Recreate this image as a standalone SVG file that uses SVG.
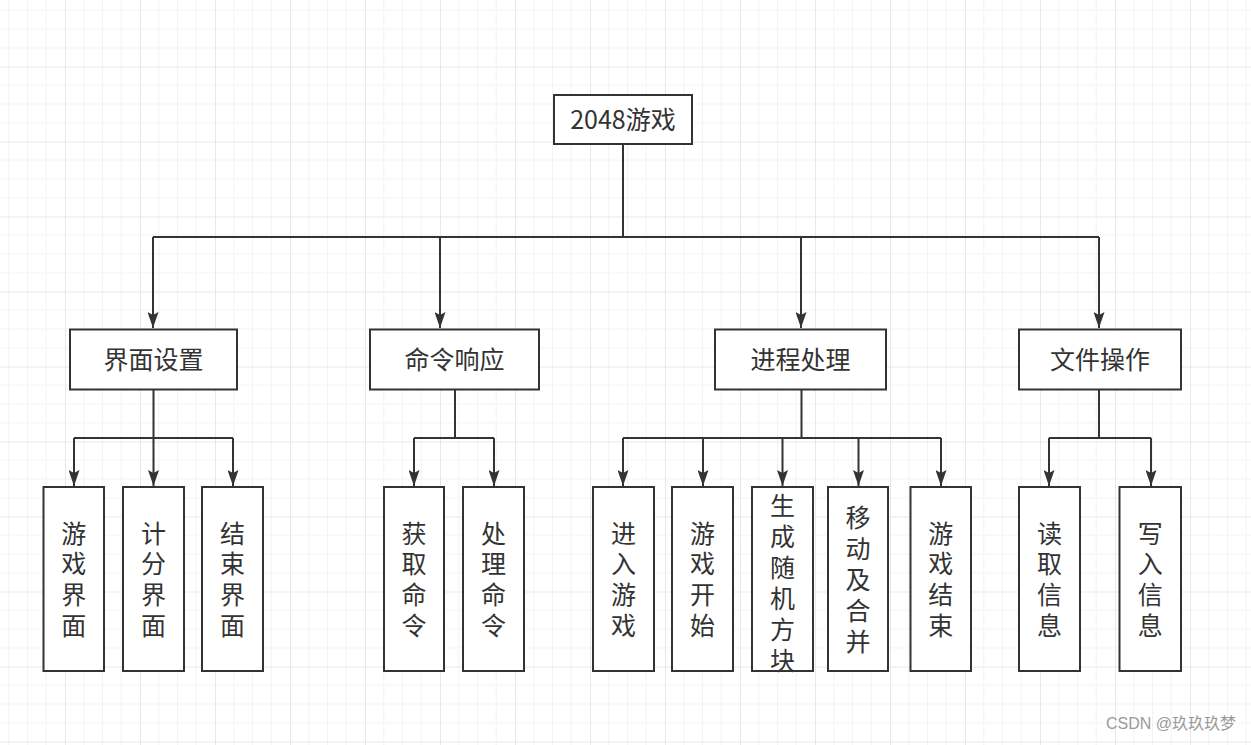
<svg xmlns="http://www.w3.org/2000/svg" width="1251" height="745" viewBox="0 0 1251 745">
<style>
.box{fill:#fff;stroke:#333;stroke-width:2}
.lbl{font-family:"Noto Sans CJK SC","Noto Sans",sans-serif;font-size:25px;fill:#333;text-anchor:middle}
.vl{font-family:"Liberation Sans","Noto Sans CJK SC",sans-serif;font-size:25px;fill:#333;text-anchor:middle}
.conn{fill:none;stroke:#333;stroke-width:2}
.arr{fill:none;stroke:#333;stroke-width:2;marker-end:url(#ah)}
.wm{font-family:"Liberation Sans","Noto Sans CJK SC",sans-serif;font-size:16px;fill:#9a9a9a;text-anchor:end}
</style>
<defs>
<pattern id="grid" patternUnits="userSpaceOnUse" x="65" y="66.5" width="75" height="75">
<rect x="0" y="18.25" width="75" height="1" fill="#f3f3f3"/>
<rect x="0" y="37" width="75" height="1" fill="#f3f3f3"/>
<rect x="0" y="55.75" width="75" height="1" fill="#f3f3f3"/>
<rect x="18.25" y="0" width="1" height="75" fill="#f3f3f3"/>
<rect x="37" y="0" width="1" height="75" fill="#f3f3f3"/>
<rect x="55.75" y="0" width="1" height="75" fill="#f3f3f3"/>
<rect x="0" y="0" width="75" height="1" fill="#e8e8e8"/>
<rect x="0" y="0" width="1" height="75" fill="#e8e8e8"/>
</pattern>
<marker id="ah" markerUnits="userSpaceOnUse" viewBox="0 0 16 11" refX="16" refY="5.5" markerWidth="16" markerHeight="11" orient="auto">
<path d="M0,0 L16,5.5 L0,11 L3,5.5 Z" fill="#333"/>
</marker>
</defs>
<rect width="1251" height="745" fill="#fff"/>
<rect width="1251" height="745" fill="url(#grid)"/>

<g id="connectors">
<path class="conn" d="M623,144 V237 M153,237 H1099"/>
<path class="arr" d="M153,237 V328"/>
<path class="arr" d="M440,237 V328"/>
<path class="arr" d="M801,237 V328"/>
<path class="arr" d="M1099,237 V328"/>
<path class="conn" d="M153.5,389.5 V438 M74,438 H233"/>
<path class="arr" d="M74,438 V486"/>
<path class="arr" d="M153.5,438 V486"/>
<path class="arr" d="M233,438 V486"/>
<path class="conn" d="M455,389.5 V438 M414,438 H494"/>
<path class="arr" d="M414,438 V486"/>
<path class="arr" d="M494,438 V486"/>
<path class="conn" d="M801.5,389.5 V438 M623,438 H941"/>
<path class="arr" d="M623,438 V486"/>
<path class="arr" d="M703,438 V486"/>
<path class="arr" d="M782.5,438 V486"/>
<path class="arr" d="M858.5,438 V486"/>
<path class="arr" d="M941,438 V486"/>
<path class="conn" d="M1099,389.5 V438 M1049,438 H1151"/>
<path class="arr" d="M1049,438 V486"/>
<path class="arr" d="M1151,438 V486"/>
</g>

<g id="root"><rect class="box" x="554" y="95" width="138" height="49"/><text class="lbl" x="623" y="129">2048游戏</text></g>

<g id="jiemian"><rect class="box" x="70" y="329.5" width="167" height="60"/><text class="lbl" x="153.5" y="369">界面设置</text></g>
<g id="mingling"><rect class="box" x="370" y="329.5" width="169" height="60"/><text class="lbl" x="454.5" y="369">命令响应</text></g>
<g id="jincheng"><rect class="box" x="715" y="329.5" width="171" height="60"/><text class="lbl" x="800.5" y="369">进程处理</text></g>
<g id="wenjian"><rect class="box" x="1019" y="329.5" width="162" height="60"/><text class="lbl" x="1100" y="369">文件操作</text></g>

<g id="leaf1"><rect class="box" x="43.5" y="487" width="60.5" height="184"/><text class="vl"><tspan x="73.75" y="542.6">游</tspan><tspan x="73.75" dy="30.8">戏</tspan><tspan x="73.75" dy="30.8">界</tspan><tspan x="73.75" dy="30.8">面</tspan></text></g>
<g id="leaf2"><rect class="box" x="123" y="487" width="61" height="184"/><text class="vl"><tspan x="153.5" y="542.6">计</tspan><tspan x="153.5" dy="30.8">分</tspan><tspan x="153.5" dy="30.8">界</tspan><tspan x="153.5" dy="30.8">面</tspan></text></g>
<g id="leaf3"><rect class="box" x="202" y="487" width="61" height="184"/><text class="vl"><tspan x="232.5" y="542.6">结</tspan><tspan x="232.5" dy="30.8">束</tspan><tspan x="232.5" dy="30.8">界</tspan><tspan x="232.5" dy="30.8">面</tspan></text></g>
<g id="leaf4"><rect class="box" x="384" y="487" width="60" height="184"/><text class="vl"><tspan x="414" y="542.6">获</tspan><tspan x="414" dy="30.8">取</tspan><tspan x="414" dy="30.8">命</tspan><tspan x="414" dy="30.8">令</tspan></text></g>
<g id="leaf5"><rect class="box" x="463" y="487" width="61" height="184"/><text class="vl"><tspan x="493.5" y="542.6">处</tspan><tspan x="493.5" dy="30.8">理</tspan><tspan x="493.5" dy="30.8">命</tspan><tspan x="493.5" dy="30.8">令</tspan></text></g>
<g id="leaf6"><rect class="box" x="593" y="487" width="61" height="184"/><text class="vl"><tspan x="623.5" y="542.6">进</tspan><tspan x="623.5" dy="30.8">入</tspan><tspan x="623.5" dy="30.8">游</tspan><tspan x="623.5" dy="30.8">戏</tspan></text></g>
<g id="leaf7"><rect class="box" x="672" y="487" width="61" height="184"/><text class="vl"><tspan x="702.5" y="542.6">游</tspan><tspan x="702.5" dy="30.8">戏</tspan><tspan x="702.5" dy="30.8">开</tspan><tspan x="702.5" dy="30.8">始</tspan></text></g>
<g id="leaf8"><rect class="box" x="752" y="487" width="61" height="184"/><text class="vl"><tspan x="782.5" y="514.5">生</tspan><tspan x="782.5" dy="31">成</tspan><tspan x="782.5" dy="31">随</tspan><tspan x="782.5" dy="31">机</tspan><tspan x="782.5" dy="31">方</tspan><tspan x="782.5" dy="31">块</tspan></text></g>
<g id="leaf9"><rect class="box" x="828" y="487" width="60" height="184"/><text class="vl"><tspan x="858" y="527">移</tspan><tspan x="858" dy="31">动</tspan><tspan x="858" dy="31">及</tspan><tspan x="858" dy="31">合</tspan><tspan x="858" dy="31">并</tspan></text></g>
<g id="leaf10"><rect class="box" x="910.5" y="487" width="60.5" height="184"/><text class="vl"><tspan x="940.75" y="542.6">游</tspan><tspan x="940.75" dy="30.8">戏</tspan><tspan x="940.75" dy="30.8">结</tspan><tspan x="940.75" dy="30.8">束</tspan></text></g>
<g id="leaf11"><rect class="box" x="1019" y="487" width="61" height="184"/><text class="vl"><tspan x="1049.5" y="542.6">读</tspan><tspan x="1049.5" dy="30.8">取</tspan><tspan x="1049.5" dy="30.8">信</tspan><tspan x="1049.5" dy="30.8">息</tspan></text></g>
<g id="leaf12"><rect class="box" x="1119.5" y="487" width="61.5" height="184"/><text class="vl"><tspan x="1150.25" y="542.6">写</tspan><tspan x="1150.25" dy="30.8">入</tspan><tspan x="1150.25" dy="30.8">信</tspan><tspan x="1150.25" dy="30.8">息</tspan></text></g>

<text class="wm" x="1236" y="729">CSDN @玖玖玖梦</text>
</svg>
